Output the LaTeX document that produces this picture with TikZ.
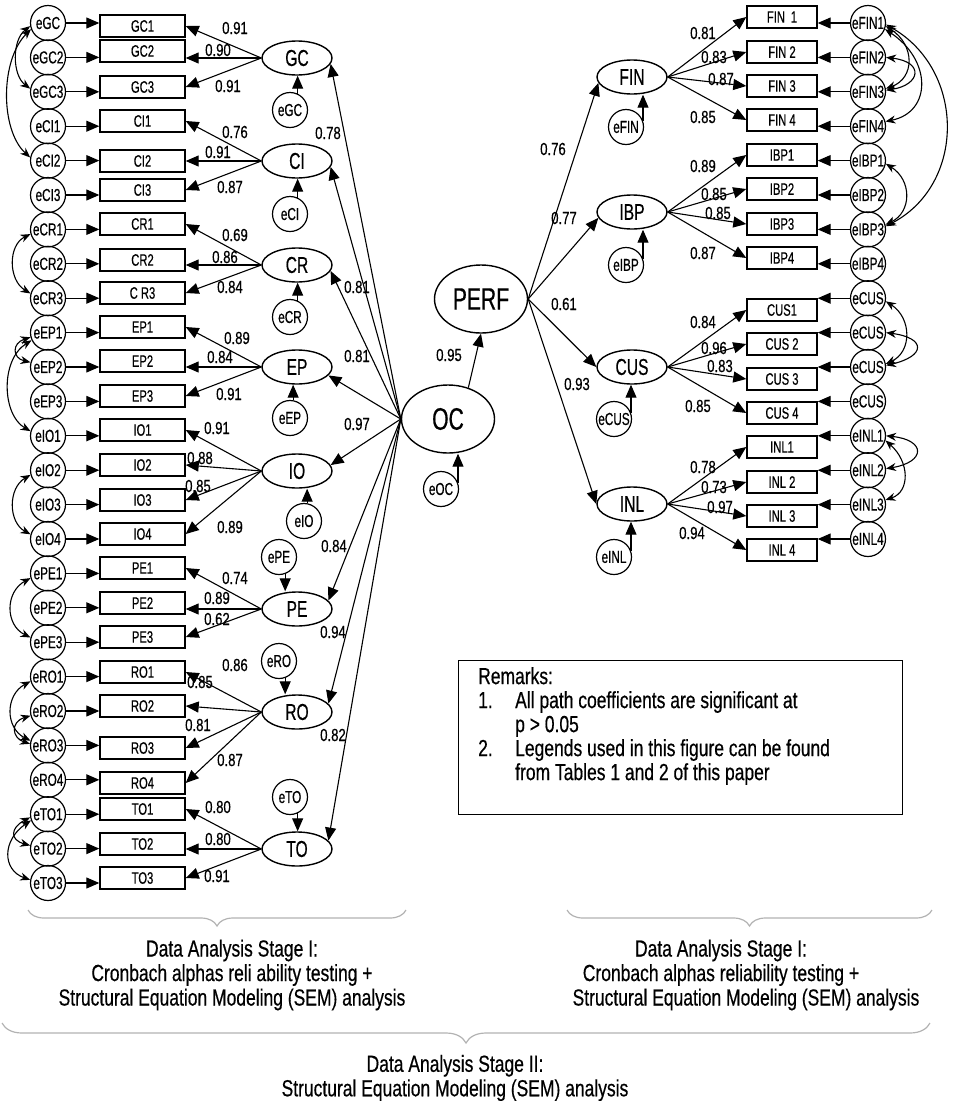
\documentclass[tikz,border=0pt]{standalone}
\usepackage{fontspec}
\setmainfont{Liberation Sans}[FakeStretch=0.75, FakeBold=0.5]
\newfontfamily\labelfont{Liberation Sans}[FakeStretch=0.68, FakeBold=0.5]
\usetikzlibrary{arrows.meta,shapes.geometric,decorations.pathreplacing}

\tikzset{
  item/.style={draw, line width=1.4pt, minimum height=22pt, inner sep=0pt,
    font=\labelfont\fontsize{16.5}{17}\selectfont},
  itemL/.style={item, minimum width=85pt},
  itemR/.style={item, minimum width=70pt},
  err/.style={draw, circle, line width=1.2pt, minimum size=35pt, inner sep=0pt,
    font=\labelfont\fontsize{17.3}{18}\selectfont},
  latent/.style={draw, ellipse, line width=1.4pt, minimum width=70pt,
    minimum height=34pt, inner sep=0pt, font=\labelfont\fontsize{23}{24}\selectfont},
  core/.style={latent, minimum width=93pt, minimum height=68pt,
    font=\labelfont\fontsize{31}{32}\selectfont},
  loadarr/.style={line width=1.1pt, -{Triangle[length=13pt,width=11pt]}},
  cov/.style={line width=1.1pt,
    {Stealth[length=10pt,width=8pt]}-{Stealth[length=10pt,width=8pt]}},
  coef/.style={inner sep=0pt, font=\fontsize{17.5}{18}\selectfont},
  remark/.style={align=left, inner sep=0pt, font=\fontsize{23.3}{24}\selectfont},
  stage/.style={align=center, inner sep=0pt, font=\fontsize{23.3}{24.5}\selectfont},
  bracket/.style={draw=gray!60, line width=1.2pt, decorate,
    decoration={brace, mirror, amplitude=#1}},
}

\begin{document}
\begin{tikzpicture}[x=1pt, y=-1pt]
\useasboundingbox (0,0) rectangle (966,1101);

% measured items, left block
\foreach \n/\t/\e/\y [count=\i from 0] in {GC1/GC1/eGC/26, GC2/GC2/eGC2/51,
    GC3/GC3/eGC3/87, CI1/CI1/eCI1/121, CI2/CI2/eCI2/161, CI3/CI3/eCI3/190,
    CR1/CR1/eCR1/224, CR2/CR2/eCR2/260, CR3/C R3/eCR3/293, EP1/EP1/eEP1/327,
    EP2/EP2/eEP2/361, EP3/EP3/eEP3/396, IO1/IO1/eIO1/430, IO2/IO2/eIO2/465,
    IO3/IO3/eIO3/500, IO4/IO4/eIO4/534, PE1/PE1/ePE1/568, PE2/PE2/ePE2/603,
    PE3/PE3/ePE3/637, RO1/RO1/eRO1/672, RO2/RO2/eRO2/706, RO3/RO3/eRO3/748,
    RO4/RO4/eRO4/783, TO1/TO1/eTO1/809, TO2/TO2/eTO2/844, TO3/TO3/eTO3/878}{
  \node[err] (e\n) at (48,{23+34.4*\i}) {\e};
  \node[itemL] (\n) at (142.5,\y) {\t};
  \draw[loadarr] (e\n) -- (e\n -| \n.west);
}

% measured items, right block
\foreach \n/\t/\e/\y [count=\i from 0] in {FIN1/FIN\,~1/eFIN1/17,
    FIN2/FIN 2/eFIN2/52, FIN3/FIN 3/eFIN3/86, FIN4/FIN 4/eFIN4/120,
    IBP1/IBP1/eIBP1/155, IBP2/IBP2/eIBP2/189, IBP3/IBP3/eIBP3/224,
    IBP4/IBP4/eIBP4/258, CUS1/CUS1/eCUS/310, CUS2/CUS 2/eCUS/344,
    CUS3/CUS 3/eCUS/379, CUS4/CUS 4/eCUS/413, INL1/INL1/eINL1/447,
    INL2/INL 2/eINL2/482, INL3/INL 3/eINL3/516, INL4/INL 4/eINL4/550}{
  \node[err] (e\n) at (868,{23+34.4*\i}) {\e};
  \node[itemR] (\n) at (782,\y) {\t};
  \draw[loadarr] (e\n) -- (e\n -| \n.east);
}

% first order factors
\node[latent] (GC) at (297,58) {GC};
\node[latent] (CI) at (297,161) {CI};
\node[latent] (CR) at (297,265) {CR};
\node[latent] (EP) at (297,367) {EP};
\node[latent] (IO) at (297,471) {IO};
\node[latent] (PE) at (297,609) {PE};
\node[latent] (RO) at (297,712) {RO};
\node[latent] (TO) at (297,849) {TO};
\node[latent] (FIN) at (632,77) {FIN};
\node[latent] (IBP) at (632,212) {IBP};
\node[latent] (CUS) at (632,367) {CUS};
\node[latent] (INL) at (632,504) {INL};
\node[core] (OC) at (448,419) {OC};
\node[core] (PERF) at (481,299) {PERF};

% disturbances
\node[err] (dGC) at (290,110) {eGC};
\node[err] (dCI) at (290,214) {eCI};
\node[err] (dCR) at (290,317) {eCR};
\node[err] (dEP) at (290,418) {eEP};
\node[err] (dIO) at (304,521) {eIO};
\node[err] (dPE) at (279,557) {ePE};
\node[err] (dRO) at (279,661) {eRO};
\node[err] (dTO) at (290,797) {eTO};
\node[err] (dFIN) at (626,127) {eFIN};
\node[err] (dIBP) at (626,265) {eIBP};
\node[err] (dCUS) at (614,419) {eCUS};
\node[err] (dINL) at (614,557) {eINL};
\node[err] (dOC) at (441,489) {eOC};

\foreach \f/\a in {GC/65, CI/65, CR/65, EP/80, IO/80}
  \draw[loadarr] (d\f.\a) -- (d\f.\a |- \f.south);
\foreach \f/\a in {PE/-70, RO/-70, TO/-65}
  \draw[loadarr] (d\f.\a) -- (d\f.\a |- \f.north);
\foreach \f in {FIN, IBP, CUS, INL, OC}
  \draw[loadarr] (d\f.20) -- (d\f.20 |- \f.south);

% loadings
\foreach \f/\a/\b/\c in {GC/GC1/GC2/GC3, CI/CI1/CI2/CI3, CR/CR1/CR2/CR3,
    EP/EP1/EP2/EP3, PE/PE1/PE2/PE3, TO/TO1/TO2/TO3}{
  \draw[loadarr] (\f.west) -- (\a.east);
  \draw[loadarr] (\f.west) -- (\f.west -| \b.east);
  \draw[loadarr] (\f.west) -- (\c.east);
}
\foreach \f in {IO, RO}
  \foreach \k in {1,...,4}
    \draw[loadarr] (\f.west) -- (\f\k.east);
\foreach \f/\a in {FIN/190, IBP/190, CUS/180, INL/180}{
  \draw[loadarr] (PERF.east) -- (\f.\a);
  \foreach \k in {1,...,4}
    \draw[loadarr] (\f.east) -- (\f\k.west);
}

% structural paths
\foreach \f/\a in {GC/-10, CI/-10, CR/-10, EP/-15, IO/10, PE/15, RO/15, TO/15}
  \draw[loadarr] (OC.west) -- (\f.\a);
\draw[loadarr] (OC.57) -- (PERF.south);

% correlated errors
\draw[cov] (eGC1.190) .. controls (12,40) and (12,75) .. (eGC3.170);
\draw[cov] (eGC1.200) .. controls (0,60) and (0,130) .. (eCI2.170);
\draw[cov] (eCR1.195) .. controls (8,245) and (8,280) .. (eCR3.165);
\draw[cov] (eEP1.195) .. controls (12,343) and (12,358) .. (eEP2.165);
\draw[cov] (eEP1.205) .. controls (0,360) and (2,415) .. (eIO1.165);
\draw[cov] (eIO2.195) .. controls (8,488) and (8,522) .. (eIO4.165);
\draw[cov] (ePE1.195) .. controls (5,592) and (5,625) .. (ePE3.165);
\draw[cov] (eRO1.195) .. controls (5,695) and (5,728) .. (eRO3.165);
\draw[cov] (eRO2.195) .. controls (10,722) and (12,738) .. (eRO3.175);
\draw[cov] (eTO1.190) .. controls (10,828) and (10,840) .. (eTO2.170);
\draw[cov] (eTO1.200) .. controls (2,840) and (2,870) .. (eTO3.170);

\draw[cov] (eFIN1.-10) .. controls (915,45) and (915,78) .. (eFIN3.10);
\draw[cov] (eFIN1.-20) .. controls (932,60) and (932,112) .. (eFIN4.15);
\draw[cov] (eFIN1.-5) .. controls (966,70) and (966,185) .. (eIBP3.10);
\draw[cov] (eFIN2.0) .. controls (925,62) and (920,85) .. (eFIN3.5);
\draw[cov] (eIBP1.-10) .. controls (912,180) and (912,212) .. (eIBP3.15);
\draw[cov] (eCUS1.-10) .. controls (912,318) and (912,352) .. (eCUS3.10);
\draw[cov] (eCUS2.0) .. controls (926,338) and (926,356) .. (eCUS3.5);
\draw[cov] (eINL1.0) .. controls (926,440) and (926,462) .. (eINL2.5);
\draw[cov] (eINL1.-15) .. controls (910,462) and (910,492) .. (eINL3.15);

% coefficients
\foreach \n/\px/\py/\v in {GC1/235/28/0.91, GC2/218/50/0.90, GC3/228/86/0.91,
    CI1/235/132/0.76, CI2/218/152/0.91, CI3/230/187/0.87, CR1/235/235/0.69,
    CR2/225/257/0.86, CR3/230/287/0.84, EP1/237/338/0.89, EP2/220/357/0.84,
    EP3/229/394/0.91, IO1/217/428/0.91, IO2/200/458/0.88, IO3/198/486/0.85,
    IO4/230/527/0.89, PE1/235/578/0.74, PE2/217/598/0.89, PE3/217/619/0.62,
    RO1/235/665/0.86, RO2/200/682/0.85, RO3/198/725/0.81, RO4/230/760/0.87,
    TO1/218/807/0.80, TO2/218/839/0.80, TO3/217/876/0.91,
    FIN1/703/33/0.81, FIN2/714/57/0.83, FIN3/721/79/0.87, FIN4/703/117/0.85,
    IBP1/703/166/0.89, IBP2/714/194/0.85, IBP3/718/213/0.85, IBP4/703/253/0.87,
    CUS1/703/322/0.84, CUS2/714/348/0.96, CUS3/720/366/0.83, CUS4/698/406/0.85,
    INL1/703/467/0.78, INL2/714/487/0.73, INL3/720/507/0.97, INL4/692/533/0.94,
    GC/328/133/0.78, CR/357/287/0.81, EP/357/356/0.81, IO/357/424/0.97,
    PE/334/546/0.84, RO/333/632/0.94, TO/333/735/0.82, PERF/449/355/0.95,
    FIN/553/149/0.76, IBP/564/218/0.77, CUS/564/304/0.61, INL/577/384/0.93}
  \node[coef] (k\n) at (\px,\py) {\v};

% remarks
\node[draw, line width=1.2pt, minimum width=444pt, minimum height=154pt,
  inner sep=0pt, anchor=north west] (remarks) at (458,660) {};
\node[remark, anchor=north west] (remtext) at (478,667) {Remarks:\\
  \makebox[37pt][l]{1.}All path coefficients are significant at\\
  \hspace*{37pt}p > 0.05\\
  \makebox[37pt][l]{2.}Legends used in this figure can be found\\
  \hspace*{37pt}from Tables 1 and 2 of this paper};

% stages
\draw[bracket=16pt] (28,910) -- (406,910);
\draw[bracket=16pt] (567,910) -- (932,910);
\draw[bracket=20pt] (2,1023) -- (930,1023);
\node[stage] (stageL) at (232,975) {Data Analysis Stage I:\\
  Cronbach alphas reli ability testing +\\
  Structural Equation Modeling (SEM) analysis};
\node[stage] (stageR) at (721,975) {Data Analysis Stage I:\\
  Cronbach alphas reliability testing +\\
  \hspace*{50pt}Structural Equation Modeling (SEM) analysis};
\node[stage] (stageII) at (455,1078) {Data Analysis Stage II:\\
  Structural Equation Modeling (SEM) analysis};
\end{tikzpicture}
\end{document}
